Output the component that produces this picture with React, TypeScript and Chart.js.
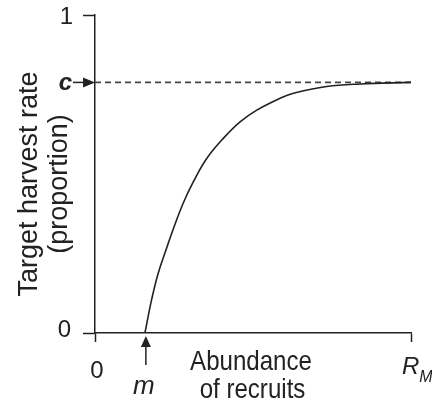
import React, { useEffect, useRef } from "react";
import { Chart, registerables } from "chart.js";

Chart.register(...registerables);

// Curve (x as fraction of R_M, y as harvest proportion)
const curveX = [0.158, 0.179, 0.2, 0.227, 0.248, 0.279, 0.311, 0.353, 0.406, 0.459, 0.512, 0.585, 0.628, 0.733, 0.839, 1.0];
const curveY = [0.0, 0.104, 0.188, 0.268, 0.328, 0.408, 0.475, 0.548, 0.612, 0.664, 0.701, 0.738, 0.754, 0.775, 0.783, 0.788];
const cLevel = 0.788;
const mValue = 0.161;
const xTicks = [0, 1];
const yTicks = [0, 1];
const yTickLabels = ["0", "1"];
const xTitle = ["Abundance", "of recruits"];
const yTitle = ["Target harvest rate", "(proportion)"];

const INK = "#222";
const FONT = "'Liberation Sans', Arial, Helvetica, sans-serif";

function squeezedText(ctx: CanvasRenderingContext2D, text: string, cx: number, y: number, sx: number) {
  ctx.save();
  ctx.translate(cx, y);
  ctx.scale(sx, 1);
  ctx.textAlign = "center";
  ctx.fillText(text, 0, 0);
  ctx.restore();
}

const annotations = {
  id: "annotations",
  afterDraw(chart: any) {
    const ctx = chart.ctx as CanvasRenderingContext2D;
    const xs = chart.scales.x;
    const ys = chart.scales.y;
    const x0 = xs.getPixelForValue(0);
    const x1 = xs.getPixelForValue(1);
    const yb = ys.getPixelForValue(0);
    const yc = ys.getPixelForValue(cLevel);
    const xm = xs.getPixelForValue(mValue);
    ctx.save();
    ctx.fillStyle = INK;
    ctx.strokeStyle = INK;
    ctx.lineWidth = 1.5;

    // c arrow
    ctx.beginPath();
    ctx.moveTo(x0 - 22, yc);
    ctx.lineTo(x0 - 10, yc);
    ctx.stroke();
    ctx.beginPath();
    ctx.moveTo(x0, yc);
    ctx.lineTo(x0 - 12, yc - 5);
    ctx.lineTo(x0 - 12, yc + 5);
    ctx.closePath();
    ctx.fill();

    // m arrow
    ctx.beginPath();
    ctx.moveTo(xm, yb + 32);
    ctx.lineTo(xm, yb + 12);
    ctx.stroke();
    ctx.beginPath();
    ctx.moveTo(xm, yb + 3);
    ctx.lineTo(xm - 5, yb + 14);
    ctx.lineTo(xm + 5, yb + 14);
    ctx.closePath();
    ctx.fill();

    // y tick labels
    ctx.font = `24px ${FONT}`;
    ctx.textAlign = "right";
    ctx.textBaseline = "alphabetic";
    yTicks.forEach((v, i) => {
      const py = ys.getPixelForValue(v);
      ctx.fillText(yTickLabels[i], i === 0 ? 71 : 73, py + (i === 0 ? 4 : 8.5));
    });
    ctx.font = `italic bold 24px ${FONT}`;
    ctx.fillText("c", 72, yc + 8);

    // x tick labels
    ctx.textAlign = "center";
    ctx.font = `24px ${FONT}`;
    ctx.fillText("0", x0 + 2, yb + 45);
    ctx.font = `italic 26px ${FONT}`;
    ctx.fillText("m", xm - 2, yb + 61);
    ctx.font = `italic 24px ${FONT}`;
    ctx.textAlign = "left";
    ctx.fillText("R", x1 - 9, yb + 41);
    const rw = ctx.measureText("R").width;
    ctx.font = `italic 16px ${FONT}`;
    ctx.fillText("M", x1 - 9 + rw, yb + 49);

    // x title
    ctx.font = `28px ${FONT}`;
    squeezedText(ctx, xTitle[0], 251, yb + 37, 0.86);
    squeezedText(ctx, xTitle[1], 252.5, yb + 65, 0.86);

    // y title
    ctx.save();
    ctx.translate(37, 184);
    ctx.rotate(-Math.PI / 2);
    ctx.font = `27px ${FONT}`;
    ctx.textAlign = "center";
    ctx.fillText(yTitle[0], 0, 0);
    ctx.fillText(yTitle[1], 0, 30);
    ctx.restore();

    ctx.restore();
  },
};

export default function App() {
  const ref = useRef<HTMLCanvasElement | null>(null);
  useEffect(() => {
    document.body.style.margin = "0";
    const canvas = ref.current!;
    const chart = new Chart(canvas, {
      type: "line",
      data: {
        datasets: [
          {
            data: curveX.map((x, i) => ({ x, y: curveY[i] })),
            borderColor: INK,
            borderWidth: 1.6,
            pointRadius: 0,
            fill: false,
            tension: 0.4,
          },
          {
            data: [
              { x: 0, y: cLevel },
              { x: 1, y: cLevel },
            ],
            borderColor: "#444",
            borderWidth: 1.6,
            borderDash: [6, 4],
            pointRadius: 0,
            fill: false,
          },
        ],
      },
      options: {
        responsive: false,
        animation: false,
        devicePixelRatio: 1,
        layout: { padding: { top: 15, right: 21, left: 0, bottom: 0 } },
        plugins: { legend: { display: false }, tooltip: { enabled: false } },
        scales: {
          x: {
            type: "linear",
            min: 0,
            max: 1,
            afterBuildTicks: (s: any) => {
              s.ticks = xTicks.map((value) => ({ value }));
            },
            afterFit: (s: any) => {
              s.height = 69;
            },
            ticks: { display: false },
            grid: { drawOnChartArea: false, drawTicks: true, tickLength: 9, tickColor: INK, tickWidth: 1.5 },
            border: { color: INK, width: 1.5 },
          },
          y: {
            type: "linear",
            min: 0,
            max: 1,
            afterBuildTicks: (s: any) => {
              s.ticks = yTicks.map((value) => ({ value }));
            },
            afterFit: (s: any) => {
              s.width = 95;
            },
            ticks: { display: false },
            grid: { drawOnChartArea: false, drawTicks: true, tickLength: 12, tickColor: INK, tickWidth: 1.5 },
            border: { color: INK, width: 1.5 },
          },
        },
      },
      plugins: [annotations],
    });
    return () => chart.destroy();
  }, []);
  return <canvas ref={ref} width={432} height={402} style={{ display: "block", width: 432, height: 402 }} />;
}
